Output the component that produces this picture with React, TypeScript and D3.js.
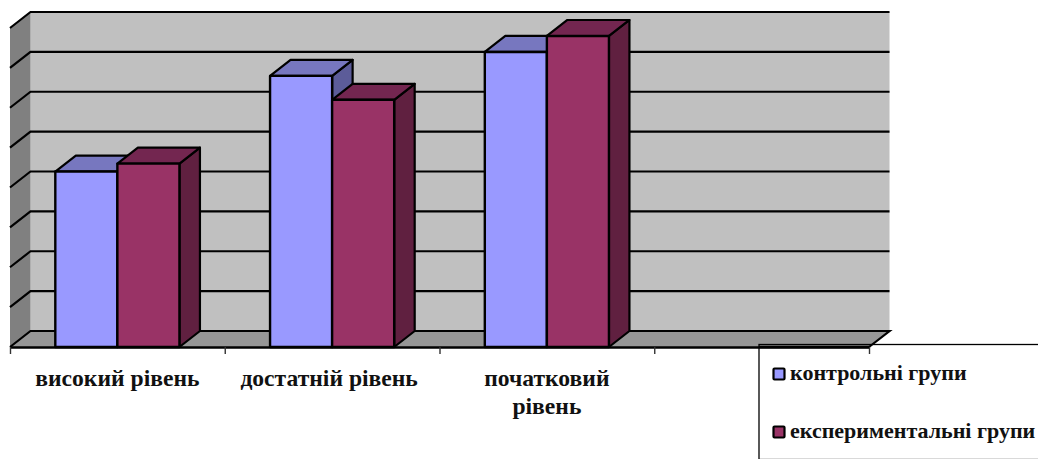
import React, {useEffect, useRef} from 'react';
import * as d3 from 'd3';

const categories = ['високий рівень', 'достатній рівень', 'початковий рівень', ''];
const seriesNames = ['контрольні групи', 'експериментальні групи'];
const control = [22, 34, 37];
const experimental = [23, 31, 39];
const yMax = 40;
const yStep = 5;

const width = 1038;
const height = 459;
const fontFamily = '"Liberation Serif", serif';

// fill colours per series: front, top, side
const colors = [
  {front: '#9999ff', top: '#7777bf', side: '#5c5c99'},
  {front: '#993366', top: '#732650', side: '#602040'},
];

const App: React.FC = () => {
  const ref = useRef<SVGSVGElement>(null);

  useEffect(() => {
    const svg = d3.select(ref.current!);
    svg.selectAll('*').remove();

    const left = 10;
    const right = 869;
    const bottom = 347;
    const top = 28;
    const dx = 20.5;
    const dy = -16;

    const x0 = d3.scaleBand<string>().domain(categories).range([left, right]);
    const x1 = d3.scaleBand<number>().domain([0, 1]).range([0, x0.bandwidth()])
      .paddingInner(0).paddingOuter(0.73).align(0.5);
    const y = d3.scaleLinear([0, yMax], [bottom, top]);
    const edges = d3.scaleLinear([0, categories.length], [left, right]);
    const gridValues = d3.range(0, yMax + yStep, yStep);

    const poly = (pts: number[][], fill: string, stroke = 'none', sw = 0) =>
      svg.append('polygon')
        .attr('points', pts.map(p => p.join(',')).join(' '))
        .attr('fill', fill)
        .attr('stroke', stroke)
        .attr('stroke-width', sw)
        .attr('stroke-linejoin', 'round');

    // walls and floor
    poly([[left + dx, y(yMax) + dy], [right + dx, y(yMax) + dy], [right + dx, bottom + dy], [left + dx, bottom + dy]], '#c0c0c0');
    poly([[left, y(yMax)], [left + dx, y(yMax) + dy], [left + dx, bottom + dy], [left, bottom]], '#808080');
    poly([[left, bottom], [left + dx, bottom + dy], [right + dx, bottom + dy], [right, bottom]], '#969696');

    // grid lines run along the side wall and the back wall
    svg.append('g')
      .selectAll('path')
      .data(gridValues)
      .join('path')
      .attr('d', d => {
        const path = d3.path();
        path.moveTo(left, y(d));
        path.lineTo(left + dx, y(d) + dy);
        path.lineTo(right + dx, y(d) + dy);
        if (d === 0) path.lineTo(right, bottom);
        return path.toString();
      })
      .attr('fill', 'none')
      .attr('stroke', '#000')
      .attr('stroke-width', 2.2);

    // bars
    const series = [control, experimental];
    categories.slice(0, 3).forEach((cat, i) => {
      series.forEach((values, s) => {
        const c = colors[s];
        const xa = x0(cat)! + x1(s)!;
        const xb = xa + x1.bandwidth();
        const yt = y(values[i]);
        const line = '#000';
        poly([[xb, bottom], [xb + dx, bottom + dy], [xb + dx, yt + dy], [xb, yt]], c.side, line, 2.2);
        poly([[xa, yt], [xa + dx, yt + dy], [xb + dx, yt + dy], [xb, yt]], c.top, line, 2.2);
        poly([[xa, bottom], [xb, bottom], [xb, yt], [xa, yt]], c.front, line, 2.4);
      });
    });

    // x axis
    const axis = svg.append('g')
      .attr('transform', `translate(0,${bottom})`)
      .call(d3.axisBottom(edges).ticks(categories.length).tickSize(7).tickSizeOuter(0).tickFormat(() => ''));
    axis.select('.domain').attr('stroke', '#000').attr('stroke-width', 2.6);
    axis.selectAll('.tick line').attr('stroke', '#333').attr('stroke-width', 1.4);

    // category labels
    const labelLines = [['високий рівень'], ['достатній рівень'], ['початковий', 'рівень']];
    const labelShift = [0, -3, 0];
    labelLines.forEach((lines, i) => {
      lines.forEach((text, j) => {
        svg.append('text')
          .attr('x', x0(categories[i])! + x0.bandwidth() / 2 + labelShift[i])
          .attr('y', 386 + j * 28)
          .attr('text-anchor', 'middle')
          .attr('font-family', fontFamily)
          .attr('font-weight', 'bold')
          .attr('font-size', 23.6)
          .attr('fill', '#111')
          .text(text);
      });
    });

    // legend
    const legend = svg.append('g');
    legend.append('rect')
      .attr('x', 759).attr('y', 344.5)
      .attr('width', width - 759 + 2).attr('height', height - 344)
      .attr('fill', 'none').attr('stroke', '#000').attr('stroke-width', 1.3);
    // repaint the axis stretch that the legend frame crosses
    legend.append('line')
      .attr('x1', 759).attr('x2', right).attr('y1', bottom).attr('y2', bottom)
      .attr('stroke', '#000').attr('stroke-width', 2.6);

    seriesNames.forEach((name, s) => {
      const yc = 374 + s * 58;
      legend.append('rect')
        .attr('x', 773.5).attr('y', yc - 5.5)
        .attr('width', 11).attr('height', 11)
        .attr('rx', 1)
        .attr('fill', colors[s].front)
        .attr('stroke', '#000')
        .attr('stroke-width', 2.2);
      legend.append('text')
        .attr('x', 790)
        .attr('y', yc + 6)
        .attr('font-family', fontFamily)
        .attr('font-weight', 'bold')
        .attr('font-size', 22)
        .attr('fill', '#111')
        .text(name);
    });
  }, []);

  return <svg ref={ref} width={width} height={height} style={{position: 'absolute', left: 0, top: 0, background: '#fff'}}/>;
};

export default App;
